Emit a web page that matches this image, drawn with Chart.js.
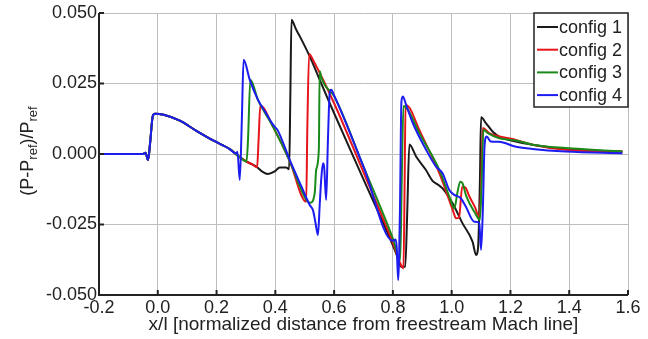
<!DOCTYPE html>
<html>
<head>
<meta charset="utf-8">
<script src="https://cdn.jsdelivr.net/npm/chart.js@4/dist/chart.umd.min.js"></script>
<style>
    html, body { margin: 0; padding: 0; background: #fff; }
    #wrap { width: 648px; height: 339px; }
</style>
</head>
<body>
<div id="wrap"><canvas id="grafico" width="648" height="339"></canvas></div>
<script>
/* ==========================================
   DATOS
   ========================================== */

// Tramo común a las 4 configuraciones (antes de los saltos)
const comunX = [-0.2, -0.05, -0.042, -0.033, -0.026, -0.017, -0.01, 0.02, 0.075, 0.13, 0.19, 0.245, 0.262];
const comunY = [0, 0, 0.0004, -0.0021, 0.004, 0.0135, 0.0143, 0.0139, 0.0118, 0.0083, 0.0047, 0.0017, 0.0003];

const config1X = [0.28, 0.302, 0.32, 0.338, 0.355, 0.375, 0.398, 0.415, 0.437, 0.447, 0.451, 0.455, 0.46, 0.471, 0.483, 0.517, 0.551, 0.585, 0.70, 0.811, 0.828, 0.842, 0.849, 0.856, 0.879, 0.912, 0.935, 0.955, 0.969, 1.003, 1.037, 1.071, 1.083, 1.09, 1.096, 1.100, 1.117, 1.139, 1.162, 1.219, 1.275, 1.388, 1.581];
const config1Y = [-0.0012, -0.0027, -0.0036, -0.0047, -0.0062, -0.0071, -0.0062, -0.0048, -0.0048, -0.0054, 0.02, 0.0476, 0.0468, 0.0441, 0.0418, 0.0346, 0.0263, 0.018, -0.009, -0.0352, -0.04, -0.04, -0.02, 0.0034, -0.0009, -0.0056, -0.0095, -0.011, -0.0122, -0.0175, -0.0246, -0.0311, -0.0358, -0.033, -0.01, 0.013, 0.0109, 0.008, 0.0062, 0.0044, 0.0033, 0.0017, 0.0009];

const config2X = [0.28, 0.302, 0.32, 0.338, 0.343, 0.349, 0.392, 0.449, 0.505, 0.509, 0.515, 0.53, 0.60, 0.70, 0.80, 0.826, 0.836, 0.84, 0.843, 0.856, 0.890, 0.958, 1.004, 1.015, 1.025, 1.036, 1.046, 1.06, 1.08, 1.093, 1.099, 1.106, 1.128, 1.162, 1.219, 1.275, 1.388, 1.581];
const config2Y = [-0.0012, -0.0027, -0.0036, -0.0047, 0.005, 0.0172, 0.0097, -0.0025, -0.0169, 0.01, 0.0355, 0.033, 0.018, -0.0065, -0.0315, -0.039, -0.0406, -0.01, 0.0174, 0.0165, 0.0085, -0.0068, -0.0199, -0.0228, -0.0225, -0.0116, -0.0118, -0.015, -0.019, -0.0222, -0.015, 0.0092, 0.0074, 0.0062, 0.005, 0.0033, 0.0015, 0.0009];

const config3X = [0.28, 0.302, 0.307, 0.315, 0.341, 0.392, 0.449, 0.505, 0.519, 0.534, 0.539, 0.548, 0.551, 0.557, 0.568, 0.60, 0.70, 0.80, 0.825, 0.83, 0.836, 0.85, 0.890, 0.958, 0.992, 1.009, 1.02, 1.029, 1.036, 1.05, 1.08, 1.096, 1.102, 1.108, 1.123, 1.162, 1.219, 1.275, 1.388, 1.581];
const config3Y = [-0.0012, -0.0027, 0.005, 0.0263, 0.0192, 0.0097, -0.0025, -0.0162, -0.0173, -0.0139, -0.0056, 0.0015, 0.0293, 0.027, 0.0245, 0.0205, -0.0045, -0.03, -0.0376, -0.01, 0.017, 0.0158, 0.0074, -0.0056, -0.0151, -0.0193, -0.0135, -0.0098, -0.0102, -0.015, -0.021, -0.0234, -0.01, 0.0086, 0.0074, 0.0056, 0.0048, 0.0033, 0.0021, 0.0009];

const config4X = [0.267, 0.271, 0.279, 0.286, 0.292, 0.313, 0.341, 0.37, 0.392, 0.409, 0.449, 0.489, 0.517, 0.528, 0.536, 0.545, 0.551, 0.556, 0.562, 0.566, 0.573, 0.579, 0.585, 0.590, 0.60, 0.70, 0.80, 0.809, 0.813, 0.818, 0.824, 0.829, 0.834, 0.845, 0.868, 0.913, 0.947, 0.969, 0.992, 1.009, 1.031, 1.048, 1.077, 1.094, 1.100, 1.106, 1.112, 1.119, 1.133, 1.16, 1.219, 1.275, 1.388, 1.581];
const config4Y = [0.0002, 0.0008, -0.0092, 0.012, 0.0334, 0.0263, 0.0192, 0.0142, 0.0104, 0.0082, -0.0021, -0.0116, -0.0181, -0.0199, -0.024, -0.0287, -0.018, -0.0092, -0.0033, -0.0045, -0.0163, 0.005, 0.0215, 0.0228, 0.0208, -0.0045, -0.0308, -0.0303, -0.033, -0.0447, -0.02, 0.0185, 0.0204, 0.0174, 0.0109, 0.0015, -0.0045, -0.0068, -0.0128, -0.0145, -0.0157, -0.0186, -0.024, -0.0245, -0.034, -0.02, 0.003, 0.0062, 0.0044, 0.0043, 0.0026, 0.0018, 0.0009, 0.0003];

const etiquetas = ['config 1', 'config 2', 'config 3', 'config 4'];
const colores = ['#1a1a1a', '#e8141c', '#1a8a1a', '#1c1cf0'];

const FUENTE = "'Liberation Sans', Arial, sans-serif";

// Une el tramo común con el tramo propio de cada configuración
const aPuntos = (xs, ys) => comunX.map((x, i) => ({ x, y: comunY[i] }))
    .concat(xs.map((x, i) => ({ x, y: ys[i] })));

const series = [
    aPuntos(config1X, config1Y),
    aPuntos(config2X, config2Y),
    aPuntos(config3X, config3Y),
    aPuntos(config4X, config4Y)
];

/* ==========================================
   EJES, TÍTULO Y LEYENDA A MANO
   ========================================== */
const ejesPlugin = {
    id: 'ejes',
    afterDraw(chart) {
        const { ctx, chartArea: a, scales: { x, y } } = chart;
        ctx.save();

        // Ejes negros con marcas hacia dentro
        ctx.strokeStyle = '#222';
        ctx.lineWidth = 2;
        ctx.beginPath();
        ctx.moveTo(a.left, a.top);
        ctx.lineTo(a.left, a.bottom);
        ctx.lineTo(a.right, a.bottom);
        x.ticks.forEach(t => {
            const p = x.getPixelForValue(t.value);
            ctx.moveTo(p, a.bottom);
            ctx.lineTo(p, a.bottom - 5);
        });
        y.ticks.forEach(t => {
            const p = y.getPixelForValue(t.value);
            ctx.moveTo(a.left, p);
            ctx.lineTo(a.left + 5, p);
        });
        ctx.stroke();

        // Título del eje Y con subíndices
        const partes = [['(P-P', false], ['ref', true], [')/P', false], ['ref', true]];
        const fuenteN = '18px ' + FUENTE;
        const fuenteS = '13px ' + FUENTE;
        let total = 0;
        partes.forEach(([t, sub]) => { ctx.font = sub ? fuenteS : fuenteN; total += ctx.measureText(t).width; });
        ctx.translate(33, 151);
        ctx.rotate(-Math.PI / 2);
        ctx.fillStyle = '#222';
        ctx.textBaseline = 'alphabetic';
        let cx = -total / 2;
        partes.forEach(([t, sub]) => {
            ctx.font = sub ? fuenteS : fuenteN;
            ctx.fillText(t, cx, sub ? 4 : 0);
            cx += ctx.measureText(t).width;
        });
        ctx.setTransform(1, 0, 0, 1, 0, 0);

        // Leyenda dentro del área, esquina superior derecha
        const w = 94, h = 94;
        const lx = a.right - w, ly = a.top;
        ctx.fillStyle = '#fff';
        ctx.fillRect(lx, ly, w, h);
        ctx.strokeStyle = '#222';
        ctx.lineWidth = 1.5;
        ctx.strokeRect(lx, ly, w, h);
        ctx.font = '18px ' + FUENTE;
        ctx.textBaseline = 'middle';
        chart.data.datasets.forEach((ds, i) => {
            const fy = ly + 14 + i * 22.7;
            ctx.strokeStyle = ds.borderColor;
            ctx.lineWidth = 2;
            ctx.beginPath();
            ctx.moveTo(lx + 3, fy);
            ctx.lineTo(lx + 24, fy);
            ctx.stroke();
            ctx.fillStyle = '#222';
            ctx.fillText(ds.label, lx + 25, fy + 1);
        });

        ctx.restore();
    }
};

/* ==========================================
   GRÁFICO
   ========================================== */
const rejilla = {
    color: '#bdbdbd',
    lineWidth: 1,
    borderDash: [2, 2],
    drawTicks: false
};

new Chart(document.getElementById('grafico'), {
    type: 'scatter',
    data: {
        datasets: series.map((data, i) => ({
            label: etiquetas[i],
            data,
            showLine: true,
            borderColor: colores[i],
            backgroundColor: colores[i],
            borderWidth: 2,
            pointRadius: 0,
            cubicInterpolationMode: 'monotone',
            order: 4 - i
        }))
    },
    options: {
        responsive: false,
        animation: false,
        layout: { padding: { top: 13, right: 20, left: 0, bottom: 0 } },
        plugins: { legend: { display: false }, tooltip: { enabled: false } },
        scales: {
            x: {
                type: 'linear',
                min: -0.2,
                max: 1.6,
                grid: rejilla,
                border: { display: false },
                ticks: {
                    stepSize: 0.2,
                    padding: 2,
                    color: '#222',
                    font: { size: 18, family: FUENTE },
                    maxRotation: 0,
                    callback: v => v.toFixed(1)
                },
                title: {
                    display: true,
                    text: 'x/l [normalized distance from freestream Mach line]',
                    color: '#222',
                    font: { size: 19, family: FUENTE },
                    padding: { top: 0, bottom: 3 }
                },
                afterFit: s => { s.height = 44; }
            },
            y: {
                type: 'linear',
                min: -0.05,
                max: 0.05,
                grid: rejilla,
                border: { display: false },
                ticks: {
                    stepSize: 0.025,
                    padding: 2,
                    color: '#222',
                    font: { size: 18, family: FUENTE },
                    callback: v => v.toFixed(3)
                },
                afterFit: s => { s.width = 99; }
            }
        }
    },
    plugins: [ejesPlugin]
});
</script>
</body>
</html>
